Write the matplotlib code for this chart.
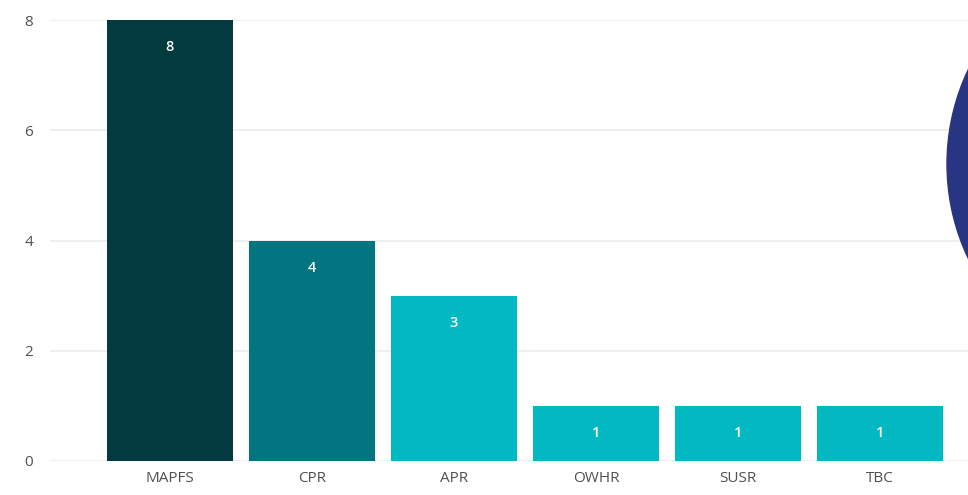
import matplotlib
matplotlib.use('Agg')
import matplotlib.pyplot as plt
from matplotlib.patches import Circle

# chart data
categories = ['MAPFS', 'CPR', 'APR', 'OWHR', 'SUSR', 'TBC']
counts = [8, 4, 3, 1, 1, 1]
bar_colors = ['#023a40', '#017580', '#01b8c3', '#01b8c3', '#01b8c3', '#01b8c3']
y_ticks = [0, 2, 4, 6, 8]

plt.rcParams['font.family'] = ['Open Sans', 'DejaVu Sans']

fig = plt.figure(figsize=(9.68, 4.95), dpi=100)
ax = fig.add_axes([50 / 968, 34 / 495, 918 / 968, 441 / 495])

x = list(range(len(categories)))
bars = ax.bar(x, counts, width=0.89, color=bar_colors, zorder=2)

for rect, val in zip(bars, counts):
    ax.annotate(str(val), (rect.get_x() + rect.get_width() / 2, val),
                xytext=(0, -27), textcoords='offset pixels',
                ha='center', va='center', color='white', fontsize=10.5,
                fontweight='semibold')

ax.set_xlim(-0.845, 5.62)
ax.set_ylim(0, 8)
ax.set_yticks(y_ticks)
ax.set_xticks(x)
ax.set_xticklabels(categories)
ax.grid(axis='y', color='#ececec', linewidth=1.2, zorder=0)
ax.tick_params(axis='both', length=0, colors='#505050', labelsize=11)
ax.tick_params(axis='y', pad=12)
ax.tick_params(axis='x', pad=7)
for s in ax.spines.values():
    s.set_visible(False)

# dark blue circle cut off at right edge
fig.patches.append(Circle((11.67, 3.31), 2.2, transform=fig.dpi_scale_trans,
                          color='#283583', zorder=5))

fig.savefig('out.png', dpi=100)
